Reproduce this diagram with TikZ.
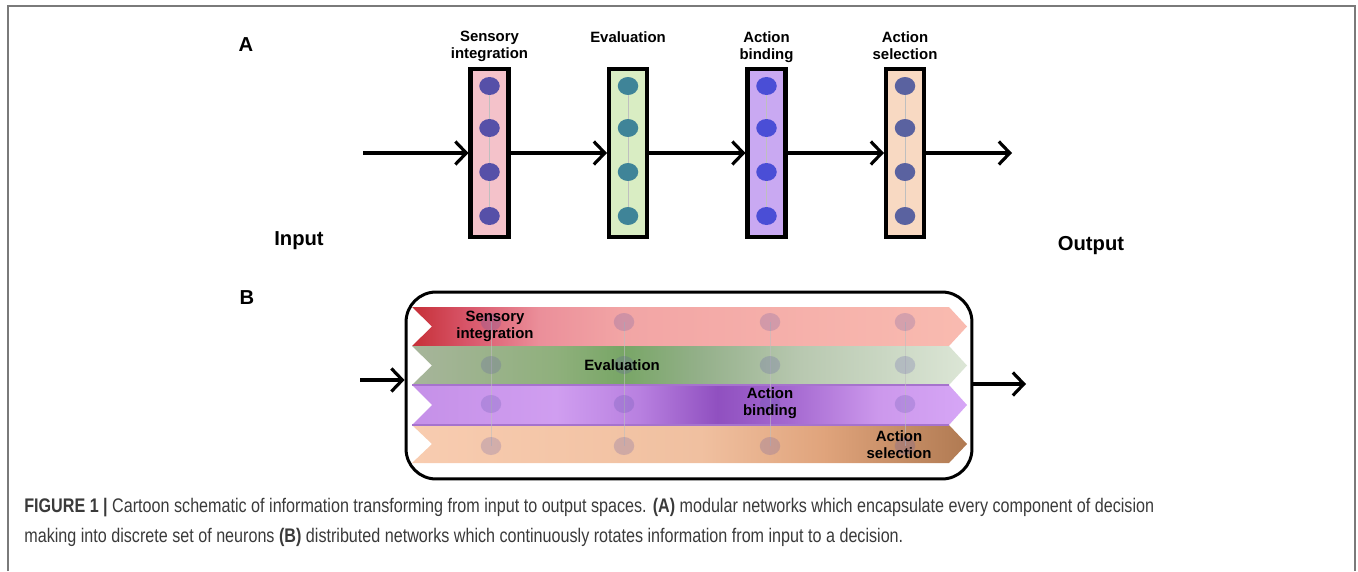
\documentclass[tikz,border=0pt]{standalone}
\usepackage{fontspec}
\setmainfont{Liberation Sans}
\newfontfamily\capfont[FakeStretch=0.82]{Liberation Sans}
\usetikzlibrary{positioning,arrows.meta,shapes.geometric}

\definecolor{sensfill}{HTML}{F4C2CA}
\definecolor{evalfill}{HTML}{D9EDC3}
\definecolor{bindfill}{HTML}{C9A9F2}
\definecolor{selfill}{HTML}{F8D9C2}
\definecolor{sensdot}{HTML}{5650A8}
\definecolor{evaldot}{HTML}{3F8498}
\definecolor{binddot}{HTML}{4A4ED6}
\definecolor{seldot}{HTML}{5A62A0}
\definecolor{capgray}{HTML}{3A3A3A}
\definecolor{framegray}{HTML}{7A7A7A}
%% band colours
\definecolor{sensA}{HTML}{C62F37}\definecolor{sensB}{HTML}{D8566A}
\definecolor{sensC}{HTML}{EB8F9A}\definecolor{sensD}{HTML}{F2A5A5}
\definecolor{sensE}{HTML}{F9BBB0}
\definecolor{evalA}{HTML}{A7B59B}\definecolor{evalB}{HTML}{8FB07C}
\definecolor{evalC}{HTML}{78A666}\definecolor{evalD}{HTML}{94B08A}
\definecolor{evalE}{HTML}{B8C8B0}\definecolor{evalF}{HTML}{DCE6D6}
\definecolor{bindA}{HTML}{C590E8}\definecolor{bindB}{HTML}{D09EF0}
\definecolor{bindC}{HTML}{B880E0}\definecolor{bindD}{HTML}{9050C0}
\definecolor{bindE}{HTML}{A468D0}\definecolor{bindF}{HTML}{CC98EC}
\definecolor{bindG}{HTML}{D6A6F6}
\definecolor{selA}{HTML}{F8CCB0}\definecolor{selB}{HTML}{F0C0A0}
\definecolor{selC}{HTML}{E0A47C}\definecolor{selD}{HTML}{B07A52}

\pgfdeclarehorizontalshading{sensband}{100bp}{color(0bp)=(sensA); color(25bp)=(sensA);
  color(30bp)=(sensB); color(36.5bp)=(sensC); color(44bp)=(sensD); color(75bp)=(sensE); color(100bp)=(sensE)}
\pgfdeclarehorizontalshading{evalband}{100bp}{color(0bp)=(evalA); color(25bp)=(evalA);
  color(38bp)=(evalB); color(44bp)=(evalC); color(51bp)=(evalD); color(60bp)=(evalE); color(75bp)=(evalF); color(100bp)=(evalF)}
\pgfdeclarehorizontalshading{bindband}{100bp}{color(0bp)=(bindA); color(25bp)=(bindA);
  color(38bp)=(bindB); color(45.5bp)=(bindC); color(52.5bp)=(bindD); color(59bp)=(bindE); color(67bp)=(bindF); color(75bp)=(bindG); color(100bp)=(bindG)}
\pgfdeclarehorizontalshading{selband}{100bp}{color(0bp)=(selA); color(25bp)=(selA);
  color(51bp)=(selB); color(62bp)=(selC); color(75bp)=(selD); color(100bp)=(selD)}

\begin{document}
\begin{tikzpicture}[
	x=0.02cm, y=-0.02cm,
	layer/.style={draw, line width=2.3pt, minimum width=0.76cm, minimum height=3.36cm, inner sep=0},
	neuron/.style={ellipse, minimum width=0.41cm, minimum height=0.36cm, inner sep=0},
	ghost/.style={neuron, fill=sensdot, opacity=0.22},
	wire/.style={black!25, line width=0.3pt},
	flow/.style={line width=1.8pt, -{Straight Barb[length=2.2mm, width=4.6mm]}},
	title/.style={font=\bfseries\fontsize{8.5}{9.6}\selectfont, align=center, inner sep=0},
	big/.style={font=\bfseries\fontsize{11.5}{13}\selectfont, inner sep=0},
	caption/.style={font=\capfont\fontsize{11.2}{13}\selectfont, text=capgray, inner sep=0, anchor=west}
]
\useasboundingbox (0,0) rectangle (1358,571);
\draw[framegray, line width=1.2pt] (8,571) |- (1355,6) -- (1355,571);

%% A: modular network
\node[big] (tagA) at (246,45) {A};
\coordinate (toprow) at (0,31);
\node[layer, fill=sensfill] (sens) at (489.5,153) {};
\node[layer, fill=evalfill] (eval) at (628,153) {};
\node[layer, fill=bindfill] (bind) at (766.5,153) {};
\node[layer, fill=selfill] (sel) at (905,153) {};

\foreach \m/\c in {sens/sensdot, eval/evaldot, bind/binddot, sel/seldot} {
	\foreach \i/\y in {1/86, 2/128, 3/172, 4/216}
		\node[neuron, fill=\c] (\m-\i) at (\m |- 0,\y) {};
	\draw[wire] (\m-1) -- (\m-2) (\m-2) -- (\m-3) (\m-3) -- (\m-4);
}

\node[title, anchor=north] (senstitle) at (sens |- toprow) {Sensory\\integration};
\node[title, anchor=north] (evaltitle) at (eval |- toprow) {Evaluation};
\node[title, anchor=north] (bindtitle) at (bind |- toprow) {Action\\binding};
\node[title, anchor=north] (seltitle) at (sel |- toprow) {Action\\selection};

\coordinate (ain) at (363,153);
\coordinate (aout) at (1012,153);
\draw[flow] (ain) -- (sens);
\draw[flow] (sens) -- (eval);
\draw[flow] (eval) -- (bind);
\draw[flow] (bind) -- (sel);
\draw[flow] (sel) -- (aout);

\node[big] (input) at (299,241) {Input};
\node[big] (output) at (1091,246) {Output};

%% B: distributed network
\node[big] (tagB) at (247,298) {B};
\node[draw, line width=1.7pt, rounded corners=0.6cm, minimum width=11.32cm, minimum height=3.74cm] (net) at (689,385.5) {};

\foreach \name/\top/\bot in {sensband/307/346, evalband/346/385, bindband/385/425, selband/425/463}
	\shade[shading=\name] (412,\top) -- (949,\top) -- (967,{(\top+\bot)/2}) -- (949,\bot)
		-- (412,\bot) -- (432,{(\top+\bot)/2}) -- cycle;
\draw[bindD!80, line width=0.6pt] (412,385) -- (949,385) (412,425) -- (949,425);

\foreach \x in {491,624,770,905} {
	\draw[wire, opacity=0.6] (\x,322) -- (\x,446);
	\foreach \y in {322,365,404,446}
		\node[ghost] at (\x,\y) {};
}

\node[title] (sensname) at (495,326) {Sensory\\integration};
\node[title] (evalname) at (622,365) {Evaluation};
\node[title] (bindname) at (770,403) {Action\\binding};
\node[title] (selname) at (899,445) {Action\\selection};

\coordinate (bin) at (360,380);
\coordinate (bout) at (1026,384);
\draw[flow] (bin) -- (bin -| net.west);
\draw[flow] (net.east |- bout) -- (bout);

%% caption
\node[caption] (cap1) at (24,508) {\textbf{FIGURE 1 |} Cartoon schematic of information transforming from input to output spaces. \textbf{(A)} modular networks which encapsulate every component of decision};
\node[caption] (cap2) at (24,537) {making into discrete set of neurons \textbf{(B)} distributed networks which continuously rotates information from input to a decision.};
\end{tikzpicture}
\end{document}
